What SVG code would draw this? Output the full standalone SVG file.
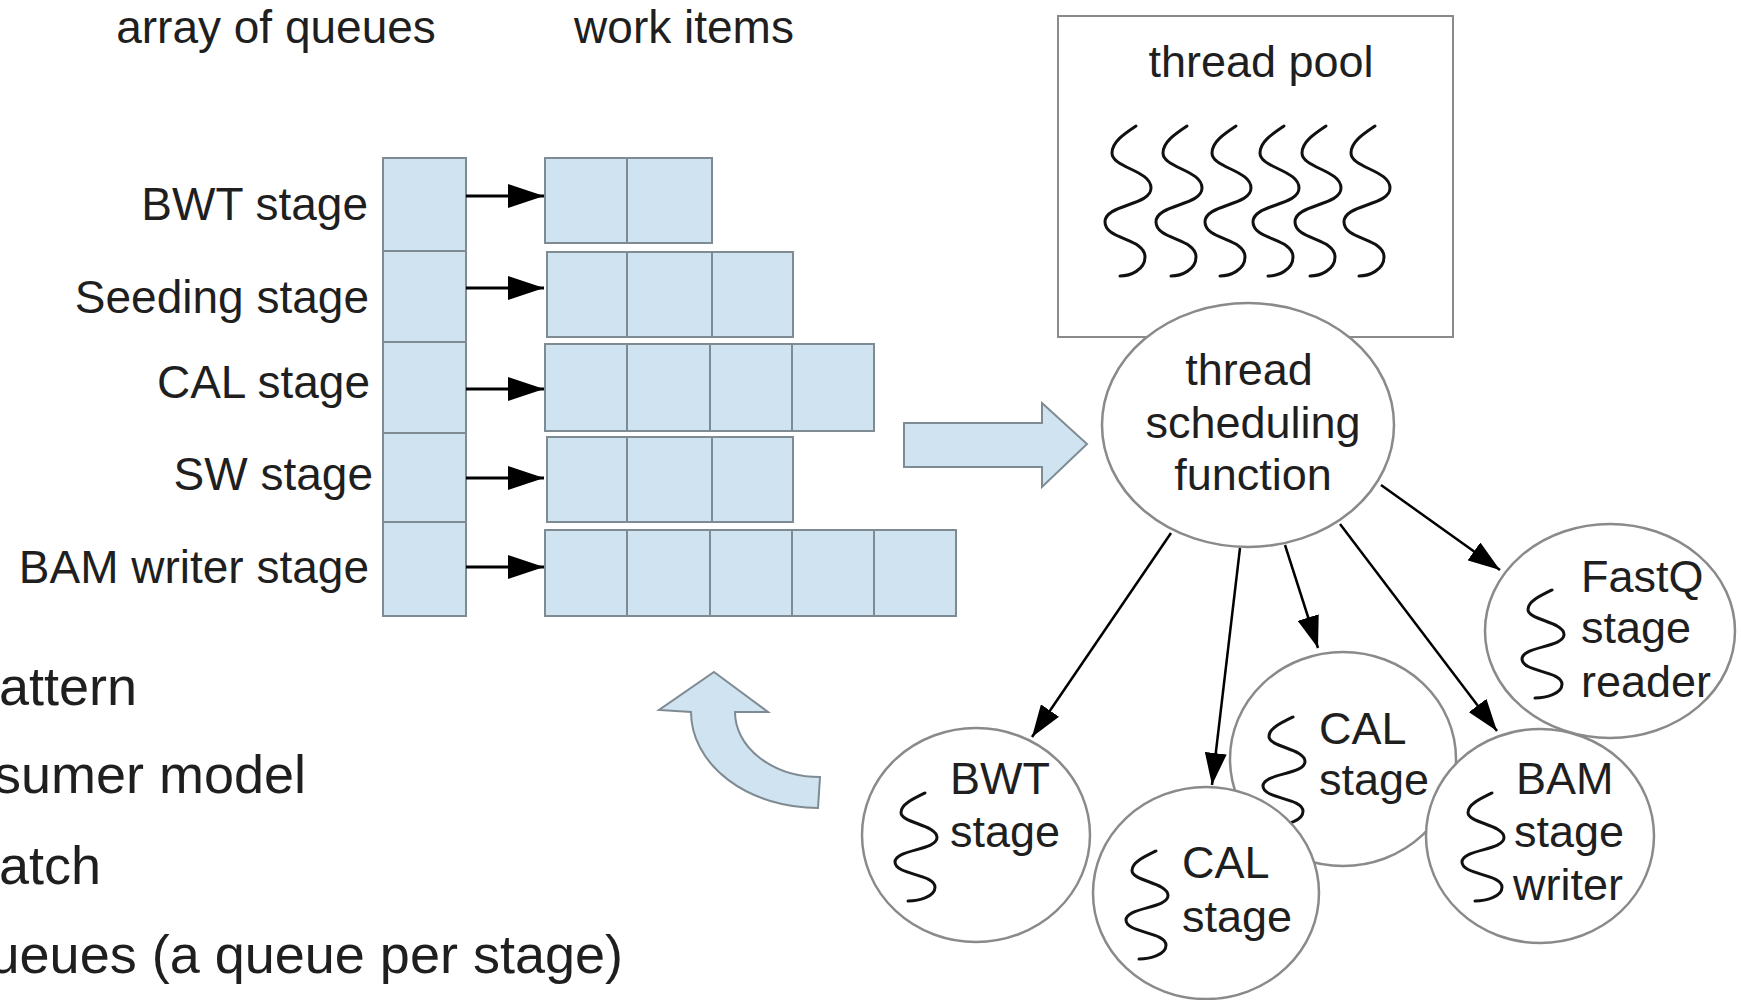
<svg xmlns="http://www.w3.org/2000/svg" width="1741" height="1000" viewBox="0 0 1741 1000">
<style>
text{font-family:"Liberation Sans",Arial,sans-serif;font-size:45px;fill:#1f1f1f}
.big{font-size:54px}
.lbl{font-size:46px}
.r{text-anchor:end}
.m{text-anchor:middle}
.cell{fill:#cfe3f1;stroke:#7f8b93;stroke-width:2}
.node{fill:#fff;stroke:#8a8a8a;stroke-width:2.5}
.box{fill:#fff;stroke:#8a8a8a;stroke-width:2}
.sq{fill:none;stroke:#111;stroke-width:3;stroke-linecap:round}
.conn{stroke:#000;stroke-width:2.5;fill:none}
.qa{stroke:#000;stroke-width:3;fill:none}
</style>
<defs>
<marker id="ah" markerUnits="userSpaceOnUse" markerWidth="36" markerHeight="24" refX="36" refY="12" orient="auto"><path d="M0,0 L36,12 L0,24 Z" fill="#000"/></marker>
<marker id="ah2" markerUnits="userSpaceOnUse" markerWidth="32" markerHeight="22" refX="32" refY="11" orient="auto"><path d="M0,0 L32,11 L0,22 Z" fill="#000"/></marker>
<path id="sqL" class="sq" d="M0,0 C-12,8 -24,16 -24,27 C-24,42 15,44 15,62 C15,80 -31,78 -31,96 C-31,114 9,112 9,131 C9,144 -6,150 -16,150"/>
<path id="sqS" class="sq" d="M0,0 C-12,5.8 -24,11.5 -24,19.4 C-24,30.2 12,31.7 12,44.6 C12,57.6 -30,56.2 -30,69.1 C-30,82.1 10,80.6 10,94.3 C10,103.7 -6,108 -17,108"/>
</defs>

<g id="headers">
<text class="m lbl" x="276" y="43">array of queues</text>
<text class="m lbl" x="684" y="43">work items</text>
</g>

<g id="bullets">
<text class="big r" x="137" y="705">attern</text>
<text class="big r" x="306" y="793">sumer model</text>
<text class="big r" x="101" y="884">atch</text>
<text class="big r" x="623" y="973">ueues (a queue per stage)</text>
</g>

<g id="stage-labels">
<text class="r lbl" x="368" y="220">BWT stage</text>
<text class="r lbl" x="369" y="313">Seeding stage</text>
<text class="r lbl" x="370" y="398">CAL stage</text>
<text class="r lbl" x="373" y="490">SW stage</text>
<text class="r lbl" x="369" y="583">BAM writer stage</text>
</g>

<g id="queue-array">
<rect class="cell" x="383" y="158" width="83" height="93"/>
<rect class="cell" x="383" y="251" width="83" height="91"/>
<rect class="cell" x="383" y="342" width="83" height="91"/>
<rect class="cell" x="383" y="433" width="83" height="89"/>
<rect class="cell" x="383" y="522" width="83" height="94"/>
</g>

<g id="work-items">
<g id="wi-bwt">
<rect class="cell" x="545" y="158" width="82" height="85"/>
<rect class="cell" x="627" y="158" width="85" height="85"/>
</g>
<g id="wi-seeding">
<rect class="cell" x="547" y="252" width="80" height="85"/>
<rect class="cell" x="627" y="252" width="85" height="85"/>
<rect class="cell" x="712" y="252" width="81" height="85"/>
</g>
<g id="wi-cal">
<rect class="cell" x="545" y="344" width="82" height="87"/>
<rect class="cell" x="627" y="344" width="83" height="87"/>
<rect class="cell" x="710" y="344" width="82" height="87"/>
<rect class="cell" x="792" y="344" width="82" height="87"/>
</g>
<g id="wi-sw">
<rect class="cell" x="547" y="437" width="80" height="85"/>
<rect class="cell" x="627" y="437" width="85" height="85"/>
<rect class="cell" x="712" y="437" width="81" height="85"/>
</g>
<g id="wi-bam">
<rect class="cell" x="545" y="530" width="82" height="86"/>
<rect class="cell" x="627" y="530" width="83" height="86"/>
<rect class="cell" x="710" y="530" width="82" height="86"/>
<rect class="cell" x="792" y="530" width="82" height="86"/>
<rect class="cell" x="874" y="530" width="82" height="86"/>
</g>
</g>

<g id="queue-arrows">
<line class="qa" x1="466" y1="196" x2="544" y2="196" marker-end="url(#ah)"/>
<line class="qa" x1="466" y1="288" x2="544" y2="288" marker-end="url(#ah)"/>
<line class="qa" x1="466" y1="389" x2="544" y2="389" marker-end="url(#ah)"/>
<line class="qa" x1="466" y1="478" x2="544" y2="478" marker-end="url(#ah)"/>
<line class="qa" x1="466" y1="567" x2="544" y2="567" marker-end="url(#ah)"/>
</g>

<g id="block-arrow">
<polygon class="cell" points="904,423 1042,423 1042,403 1087,444 1042,487 1042,467 904,467"/>
</g>
<g id="curved-arrow">
<path class="cell" d="M714,672 L768,712 L735,712 A85,65 0 0 0 820,777 L818,808 A127,96 0 0 1 691,712 L659,710 Z"/>
</g>

<g id="thread-pool">
<rect class="box" x="1058" y="16" width="395" height="321"/>
<text class="m" x="1261" y="77">thread pool</text>
<use href="#sqL" x="1136" y="126"/>
<use href="#sqL" x="1187" y="126"/>
<use href="#sqL" x="1236" y="126"/>
<use href="#sqL" x="1284" y="126"/>
<use href="#sqL" x="1326" y="126"/>
<use href="#sqL" x="1375" y="126"/>
</g>

<g id="scheduler">
<ellipse class="node" cx="1248" cy="425" rx="146" ry="122"/>
<text class="m" x="1249" y="385">thread</text>
<text class="m" x="1253" y="438">scheduling</text>
<text class="m" x="1253" y="490">function</text>
</g>

<g id="bwt-node">
<ellipse class="node" cx="976" cy="835" rx="114" ry="107"/>
<use href="#sqS" x="925" y="793"/>
<text x="950" y="794">BWT</text>
<text x="950" y="847">stage</text>
</g>

<g id="cal-node-back">
<ellipse class="node" cx="1343" cy="759" rx="113" ry="107"/>
<use href="#sqS" x="1293" y="717"/>
<text x="1319" y="744">CAL</text>
<text x="1319" y="795">stage</text>
</g>

<g id="cal-node-front">
<ellipse class="node" cx="1206" cy="893" rx="113" ry="106"/>
<use href="#sqS" x="1156" y="851"/>
<text x="1182" y="878">CAL</text>
<text x="1182" y="932">stage</text>
</g>

<g id="bam-node">
<ellipse class="node" cx="1540" cy="836" rx="114" ry="107"/>
<use href="#sqS" x="1492" y="793"/>
<text x="1516" y="794">BAM</text>
<text x="1514" y="847">stage</text>
<text x="1513" y="900">writer</text>
</g>

<g id="fastq-node">
<ellipse class="node" cx="1610" cy="631" rx="125" ry="107"/>
<use href="#sqS" x="1552" y="590"/>
<text x="1581" y="592">FastQ</text>
<text x="1581" y="643">stage</text>
<text x="1581" y="697">reader</text>
</g>

<g id="connectors">
<line class="conn" x1="1171" y1="533" x2="1032" y2="737" marker-end="url(#ah2)"/>
<line class="conn" x1="1240" y1="548" x2="1212" y2="785" marker-end="url(#ah2)"/>
<line class="conn" x1="1285" y1="545" x2="1318" y2="648" marker-end="url(#ah2)"/>
<line class="conn" x1="1340" y1="524" x2="1497" y2="731" marker-end="url(#ah2)"/>
<line class="conn" x1="1381" y1="485" x2="1500" y2="570" marker-end="url(#ah2)"/>
</g>
</svg>
